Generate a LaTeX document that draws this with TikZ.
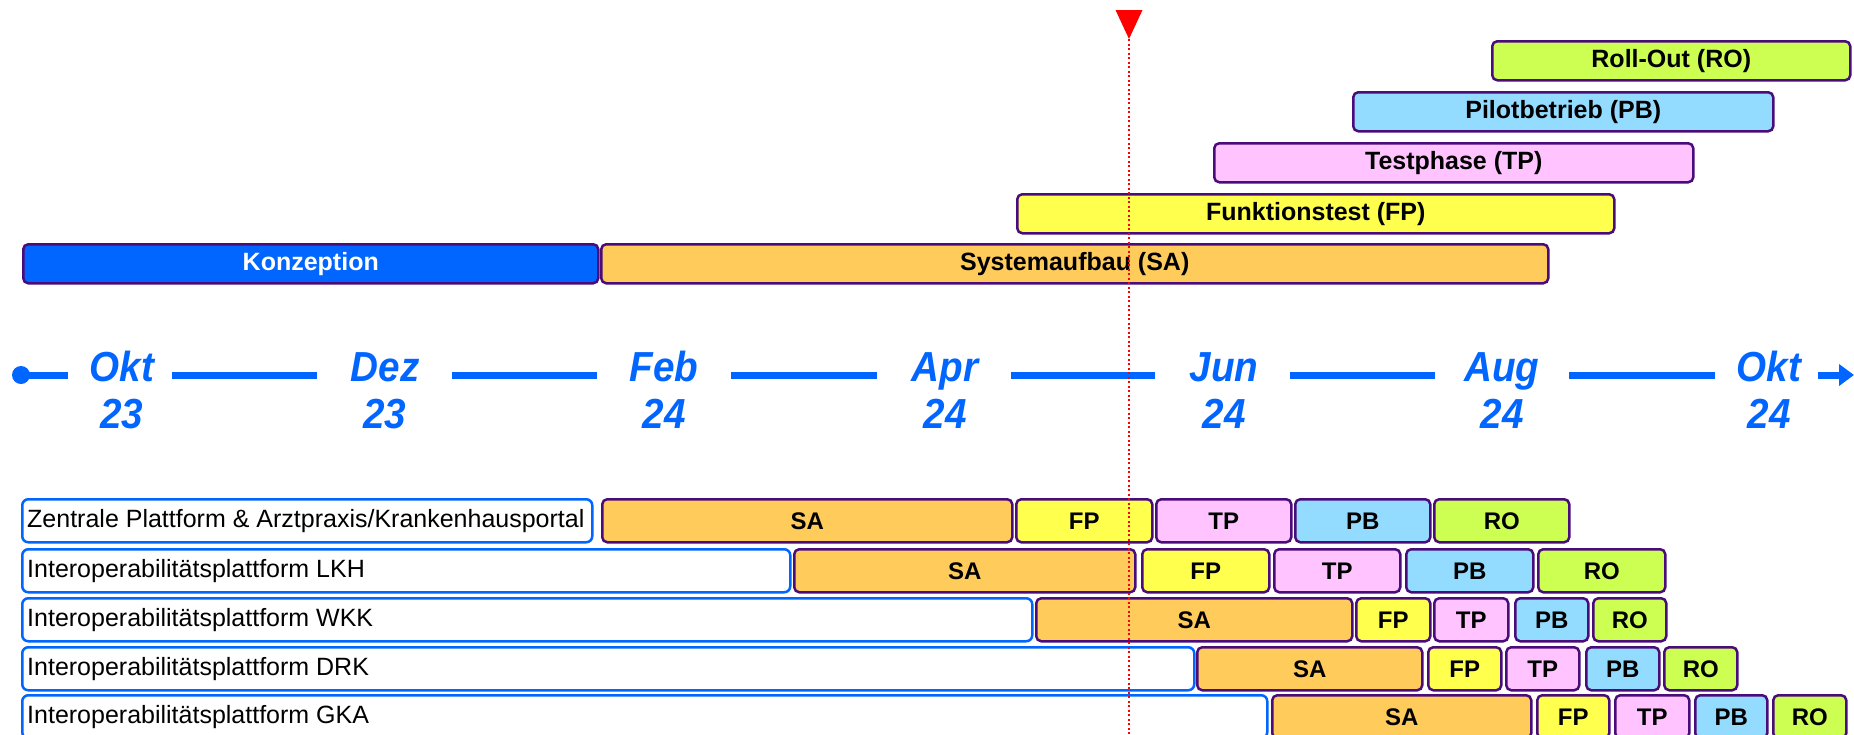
\documentclass[tikz,border=0pt]{standalone}
\usepackage{fontspec}
\usepackage{graphicx}
\setmainfont{Liberation Sans}
\usetikzlibrary{arrows.meta}
\definecolor{tlblue}{HTML}{0066FF}
\definecolor{barline}{HTML}{4A0C7A}
\definecolor{saC}{HTML}{FFCC5C}
\definecolor{fpC}{HTML}{FFFF4D}
\definecolor{tpC}{HTML}{FFC4FF}
\definecolor{pbC}{HTML}{94DCFF}
\definecolor{roC}{HTML}{CCFF52}
\newcommand\topbar[6]{\node[tbar,fill=#1,minimum width={#4-#3}] (#2) at (#3,#5) {#6};}
\newcommand\rowbar[6]{\node[rbar,fill=#1,minimum width={#4-#3}] (#2) at (#3,#5) {#6};}
\newcommand\rowlabel[5]{\node[lblbox,minimum width={#3-21}] (#1) at (21,#4) {};
  \node[lbltext] (#2) at ([xshift=6pt]#1.west) {#5};}
\newcommand\narrow[1]{\scalebox{0.92}[1]{#1}}
\begin{document}
\begin{tikzpicture}[x=1pt,y=-1pt,
  barbase/.style={draw=barline, line width=2.5pt, rounded corners=5pt, inner sep=0pt, anchor=north west},
  tbar/.style={barbase, minimum height=39pt, font=\fontsize{25}{30}\selectfont\bfseries},
  rbar/.style={barbase, minimum height=43pt, font=\fontsize{24}{28}\selectfont\bfseries},
  lblbox/.style={draw=tlblue, line width=2.5pt, rounded corners=6pt, fill=white, inner sep=0pt, anchor=north west, minimum height=43pt},
  lbltext/.style={anchor=west, inner sep=0pt, font=\fontsize{25}{30}\selectfont},
  month/.style={anchor=base, inner sep=0pt, text=tlblue, font=\fontsize{42}{48}\selectfont\bfseries\itshape},
  tline/.style={draw=tlblue, line width=7pt},
  today/.style={draw=red, line width=2pt, dash pattern=on 2pt off 2.5pt}
]
\useasboundingbox (0,0) rectangle (1854,734);
\clip (0,0) rectangle (1854,734);

% top phase bars
\topbar{tlblue}{konz}{22}{597}{243}{\color{white}Konzeption}
\topbar{saC}{sa}{600}{1547}{243}{Systemaufbau (SA)}
\topbar{fpC}{fp}{1016}{1613}{193}{Funktionstest (FP)}
\topbar{tpC}{tp}{1213}{1692}{142}{Testphase (TP)}
\topbar{pbC}{pb}{1352}{1772}{91}{Pilotbetrieb (PB)}
\topbar{roC}{ro}{1491}{1849}{40}{Roll-Out (RO)}

% timeline
\fill[tlblue] (21,375) circle[radius=9pt];
\draw[tline] (14,375) -- (68,375);
\draw[tline] (172,375) -- (317,375);
\draw[tline] (452,375) -- (597,375);
\draw[tline] (731,375) -- (877,375);
\draw[tline] (1011,375) -- (1155,375);
\draw[tline] (1290,375) -- (1435,375);
\draw[tline] (1569,375) -- (1715,375);
\draw[tline, -{Triangle[length=15pt,width=21pt]}] (1818,375) -- (1854,375);

\node[month] (m1) at (122,381) {\narrow{Okt}};
\node[month] (y1) at (122,428) {\narrow{23}};
\node[month] (m2) at (385,381) {\narrow{Dez}};
\node[month] (y2) at (385,428) {\narrow{23}};
\node[month] (m3) at (664,381) {\narrow{Feb}};
\node[month] (y3) at (664,428) {\narrow{24}};
\node[month] (m4) at (945,381) {\narrow{Apr}};
\node[month] (y4) at (945,428) {\narrow{24}};
\node[month] (m5) at (1224,381) {\narrow{Jun}};
\node[month] (y5) at (1224,428) {\narrow{24}};
\node[month] (m6) at (1502,381) {\narrow{Aug}};
\node[month] (y6) at (1502,428) {\narrow{24}};
\node[month] (m7) at (1769,381) {\narrow{Okt}};
\node[month] (y7) at (1769,428) {\narrow{24}};

% rows
\rowlabel{l1}{t1}{591}{498}{Zentrale Plattform \& Arztpraxis/Krankenhausportal}
\rowbar{saC}{sa1}{601}{1011}{498}{SA}
\rowbar{fpC}{fp1}{1015}{1151}{498}{FP}
\rowbar{tpC}{tp1}{1155}{1290}{498}{TP}
\rowbar{pbC}{pb1}{1294}{1429}{498}{PB}
\rowbar{roC}{ro1}{1433}{1568}{498}{RO}

\rowlabel{l2}{t2}{789}{548}{Interoperabilitätsplattform LKH}
\rowbar{saC}{sa2}{793}{1134}{548}{SA}
\rowbar{fpC}{fp2}{1141}{1268}{548}{FP}
\rowbar{tpC}{tp2}{1273}{1399}{548}{TP}
\rowbar{pbC}{pb2}{1405}{1532}{548}{PB}
\rowbar{roC}{ro2}{1537}{1664}{548}{RO}

\rowlabel{l3}{t3}{1031}{597}{Interoperabilitätsplattform WKK}
\rowbar{saC}{sa3}{1035}{1351}{597}{SA}
\rowbar{fpC}{fp3}{1355}{1429}{597}{FP}
\rowbar{tpC}{tp3}{1433}{1507}{597}{TP}
\rowbar{pbC}{pb3}{1514}{1587}{597}{PB}
\rowbar{roC}{ro3}{1592}{1665}{597}{RO}

\rowlabel{l4}{t4}{1193}{646}{Interoperabilitätsplattform DRK}
\rowbar{saC}{sa4}{1196}{1421}{646}{SA}
\rowbar{fpC}{fp4}{1427}{1500}{646}{FP}
\rowbar{tpC}{tp4}{1505}{1578}{646}{TP}
\rowbar{pbC}{pb4}{1585}{1658}{646}{PB}
\rowbar{roC}{ro4}{1663}{1736}{646}{RO}

\rowlabel{l5}{t5}{1266}{694}{Interoperabilitätsplattform GKA}
\rowbar{saC}{sa5}{1271}{1530}{694}{SA}
\rowbar{fpC}{fp5}{1536}{1608}{694}{FP}
\rowbar{tpC}{tp5}{1614}{1688}{694}{TP}
\rowbar{pbC}{pb5}{1694}{1766}{694}{PB}
\rowbar{roC}{ro5}{1772}{1845}{694}{RO}

% today marker
\coordinate (tip) at (1129,39);
\coordinate (bot) at (1129,734);
\fill[red] (1115.5,10) -- (1142.5,10) -- (tip) -- cycle;
\draw[today] (tip) -- (bot);
\end{tikzpicture}
\end{document}
